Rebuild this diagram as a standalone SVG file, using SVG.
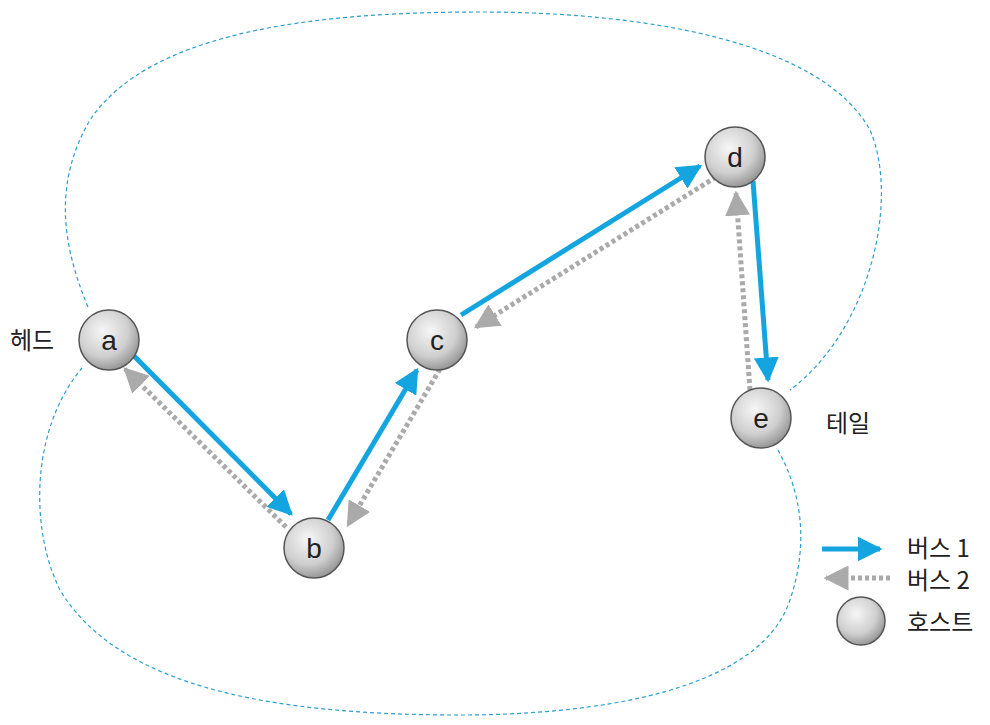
<svg xmlns="http://www.w3.org/2000/svg" width="990" height="725" viewBox="0 0 990 725">
<style>
.ring{fill:none;stroke:#2a9fd0;stroke-width:1.2;stroke-dasharray:4,3}
.b1{fill:none;stroke:#14a5e0;stroke-width:5}
.b2{fill:none;stroke:#aaaaaa;stroke-width:5;stroke-dasharray:4,3}
.host{fill:url(#g);stroke:#555;stroke-width:1.5}
.lbl{font-family:"Liberation Sans",Arial,sans-serif;font-size:28px;fill:#222;text-anchor:middle}
.kr{font-family:"Noto Sans CJK KR","Noto Sans",sans-serif;font-size:24px;fill:#222}
</style>
<defs>
<radialGradient id="g" cx="0.4" cy="0.35" r="0.7">
<stop offset="0" stop-color="#f6f6f6"/>
<stop offset="0.6" stop-color="#cfcfcf"/>
<stop offset="1" stop-color="#8e8e8e"/>
</radialGradient>
<marker id="m1" viewBox="0 0 10 10" refX="9" refY="5" markerWidth="5" markerHeight="5" orient="auto" markerUnits="strokeWidth">
<path d="M0,0 L10,5 L0,10 z" fill="#14a5e0"/>
</marker>
<marker id="m2" viewBox="0 0 10 10" refX="9" refY="5" markerWidth="5" markerHeight="5" orient="auto" markerUnits="strokeWidth">
<path d="M0,0 L10,5 L0,10 z" fill="#aaaaaa"/>
</marker>
</defs>
<g id="ring">
<path class="ring" d="M88,307 C60,240 55,180 90,120 C150,30 320,12 480,12 C640,12 820,40 870,130 C900,200 870,330 790,390"/>
<path class="ring" d="M778,450 C800,490 810,540 790,600 C760,690 600,716 450,715 C280,714 120,690 60,590 C30,530 30,430 82,368"/>
</g>
<g id="connectors">
<line class="b1" x1="132" y1="354" x2="291" y2="514" marker-end="url(#m1)"/>
<line class="b2" x1="286" y1="527" x2="125" y2="369" marker-end="url(#m2)"/>
<line class="b1" x1="328" y1="520" x2="417" y2="370" marker-end="url(#m1)"/>
<line class="b2" x1="440" y1="369" x2="348" y2="525" marker-end="url(#m2)"/>
<line class="b1" x1="461" y1="315" x2="700" y2="166" marker-end="url(#m1)"/>
<line class="b2" x1="716" y1="177" x2="476" y2="327" marker-end="url(#m2)"/>
<line class="b1" x1="753" y1="181" x2="768" y2="380" marker-end="url(#m1)"/>
<line class="b2" x1="750" y1="390" x2="736" y2="193" marker-end="url(#m2)"/>
</g>
<g id="node-a"><circle class="host" cx="109" cy="340" r="30"/><text class="lbl" x="109" y="350">a</text></g>
<g id="node-b"><circle class="host" cx="314" cy="548" r="30"/><text class="lbl" x="314" y="558">b</text></g>
<g id="node-c"><circle class="host" cx="437" cy="340" r="30"/><text class="lbl" x="437" y="350">c</text></g>
<g id="node-d"><circle class="host" cx="735" cy="157" r="30"/><text class="lbl" x="735" y="167">d</text></g>
<g id="node-e"><circle class="host" cx="761" cy="418" r="30"/><text class="lbl" x="761" y="428">e</text></g>
<text class="kr" x="10" y="349">헤드</text>
<text class="kr" x="826" y="432">테일</text>
<g id="legend">
<line class="b1" x1="822" y1="549" x2="880" y2="549" marker-end="url(#m1)"/>
<line class="b2" x1="890" y1="578" x2="826" y2="578" marker-end="url(#m2)"/>
<circle class="host" cx="861" cy="621" r="24"/>
<text class="kr" x="907" y="557">버스 1</text>
<text class="kr" x="907" y="589">버스 2</text>
<text class="kr" x="907" y="631">호스트</text>
</g>
</svg>
